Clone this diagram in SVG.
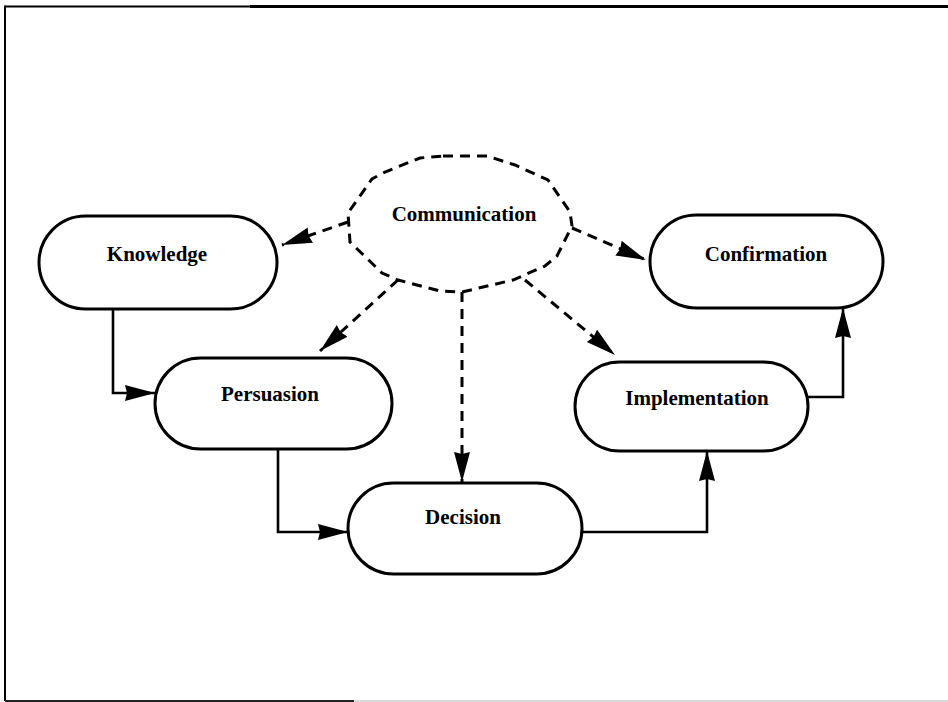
<svg xmlns="http://www.w3.org/2000/svg" width="948" height="702" viewBox="0 0 948 702">
<style>
.node rect{fill:#fff;stroke:#000;stroke-width:3}
.lbl{font-family:"Liberation Serif","Times New Roman",serif;font-weight:bold;font-size:21px;text-anchor:middle;fill:#000}
.solid{fill:none;stroke:#000;stroke-width:2.6}
.dash{fill:none;stroke:#000;stroke-width:3;stroke-dasharray:10 7}
</style>
<defs>
<marker id="ah" markerUnits="userSpaceOnUse" markerWidth="32" markerHeight="18" refX="30" refY="8" orient="auto">
<path d="M0,0 L30,8 L0,16 L2,8 z" fill="#000"/>
</marker>
</defs>
<rect x="0" y="0" width="948" height="702" fill="#fff"/>
<g id="frame">
<line x1="5" y1="6.5" x2="250" y2="6.5" stroke="#000" stroke-width="2"/>
<line x1="250" y1="6.5" x2="948" y2="6.5" stroke="#000" stroke-width="3"/>
<line x1="5" y1="5.5" x2="5" y2="701" stroke="#000" stroke-width="2"/>
<line x1="5" y1="701" x2="354" y2="701" stroke="#222" stroke-width="2"/>
<line x1="354" y1="701" x2="948" y2="701" stroke="#ccc" stroke-width="1.5"/>
</g>
<g id="communication">
<polygon class="dash" points="443,156 487,156 515,165 548,180 570,212 572,226 557,256 545,266 513,280 462,292 440,291 398,280 382,273 350,242 348,213 372,179 385,172 420,158"/>
<text class="lbl" x="464" y="221">Communication</text>
</g>
<g id="knowledge" class="node">
<rect x="39" y="216" width="238" height="93" rx="46.5"/>
<text class="lbl" x="157" y="261">Knowledge</text>
</g>
<g id="persuasion" class="node">
<rect x="155" y="358" width="237" height="91" rx="45.5"/>
<text class="lbl" x="270" y="401">Persuasion</text>
</g>
<g id="decision" class="node">
<rect x="348" y="483" width="234" height="91" rx="45.5"/>
<text class="lbl" x="463" y="524">Decision</text>
</g>
<g id="implementation" class="node">
<rect x="575" y="362" width="233" height="89" rx="44.5"/>
<text class="lbl" x="697" y="405">Implementation</text>
</g>
<g id="confirmation" class="node">
<rect x="650" y="215" width="233" height="93" rx="46.5"/>
<text class="lbl" x="766" y="261">Confirmation</text>
</g>
<g id="connectors">
<path class="solid" d="M113,309 V393 H155" marker-end="url(#ah)"/>
<path class="solid" d="M278,449 V532 H348" marker-end="url(#ah)"/>
<path class="solid" d="M582,532 H707 V451" marker-end="url(#ah)"/>
<path class="solid" d="M808,397 H843 V308" marker-end="url(#ah)"/>
<path class="dash" d="M348,222 L282,245" marker-end="url(#ah)"/>
<path class="dash" d="M572,228 L646,260" marker-end="url(#ah)"/>
<path class="dash" d="M398,280 L320,351" marker-end="url(#ah)"/>
<path class="dash" d="M462,292 L462,482" marker-end="url(#ah)"/>
<path class="dash" d="M525,280 L615,355" marker-end="url(#ah)"/>
</g>
</svg>
